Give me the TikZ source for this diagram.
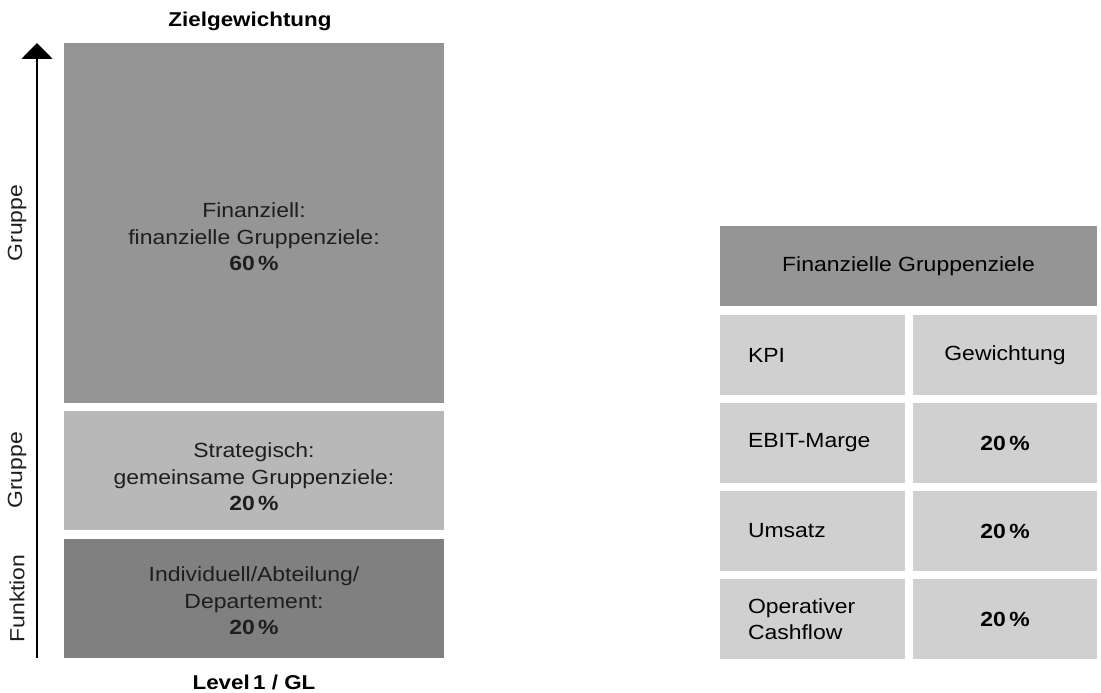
\documentclass[tikz,border=0pt]{standalone}
\usepackage{fontspec}
\setmainfont[FakeStretch=1.12]{Liberation Sans}
\newcommand{\medfont}{\bfseries}
\usetikzlibrary{arrows.meta}
\definecolor{finGray}{HTML}{959595}
\definecolor{strGray}{HTML}{B8B8B8}
\definecolor{indGray}{HTML}{808080}
\definecolor{cellGray}{HTML}{D0D0D0}
\definecolor{txtGray}{HTML}{1E1E1E}

\begin{document}
\begin{tikzpicture}[x=1pt, y=-1pt, every node/.style={font=\fontsize{20.5}{26.5}\selectfont, inner sep=0pt}]
	\tikzset{box/.style={rectangle, minimum width=380pt, minimum height=119pt},
		boxtext/.style={align=center, text=txtGray},
		cell/.style={rectangle, fill=cellGray, minimum height=80pt},
		kpicell/.style={cell, text width=129pt, inner xsep=28pt, align=left},
		valcell/.style={cell, minimum width=184pt},
		medium/.style={font=\medfont\fontsize{20}{24}\selectfont}}
	\useasboundingbox (0,0) rectangle (1101,693);
	% linke Seite: Zielgewichtung
	\node[medium] (title) at (250,21) {Zielgewichtung};
	\node[box, fill=finGray, minimum height=360pt] (fin) at (254,223) {};
	\node[box, fill=strGray] (str) at (254,470.5) {};
	\node[box, fill=indGray] (ind) at (254,598.5) {};
	\node[boxtext] (fintext) at (254,237) {Finanziell:\\finanzielle Gruppenziele:\\{\medfont 60\,\%}};
	\node[boxtext] (strtext) at (254,477) {Strategisch:\\gemeinsame Gruppenziele:\\{\medfont 20\,\%}};
	\node[boxtext] (indtext) at (254,601) {Individuell/Abteilung/\\Departement:\\{\medfont 20\,\%}};
	\node[medium] (level) at (254,682) {Level\,1 / GL};
	\coordinate (axbot) at (37,658);
	\coordinate (axtop) at (37,43);
	\draw[line width=2pt, -{Triangle[width=31pt,length=16pt]}] (axbot) -- (axtop);
	\node[rotate=90, text=txtGray] (grp1) at (17,223) {Gruppe};
	\node[rotate=90, text=txtGray] (grp2) at (17,470.5) {Gruppe};
	\node[rotate=90, text=txtGray] (fkt) at (17,598.5) {Funktion};
	% rechte Seite: Tabelle
	\node[cell, fill=finGray, minimum width=377pt] (head) at (908.5,266) {Finanzielle Gruppenziele};
	\node[kpicell] (kpi) at (812.5,355) {KPI};
	\node[valcell] (gew) at (1005,355) {Gewichtung};
	\node[kpicell] (ebit) at (812.5,443) {EBIT-Marge};
	\node[valcell] (ebitval) at (1005,443) {{\medfont 20\,\%}};
	\node[kpicell] (ums) at (812.5,531) {Umsatz};
	\node[valcell] (umsval) at (1005,531) {{\medfont 20\,\%}};
	\node[kpicell] (cash) at (812.5,619) {Operativer\\Cashflow};
	\node[valcell] (cashval) at (1005,619) {{\medfont 20\,\%}};
\end{tikzpicture}
\end{document}
